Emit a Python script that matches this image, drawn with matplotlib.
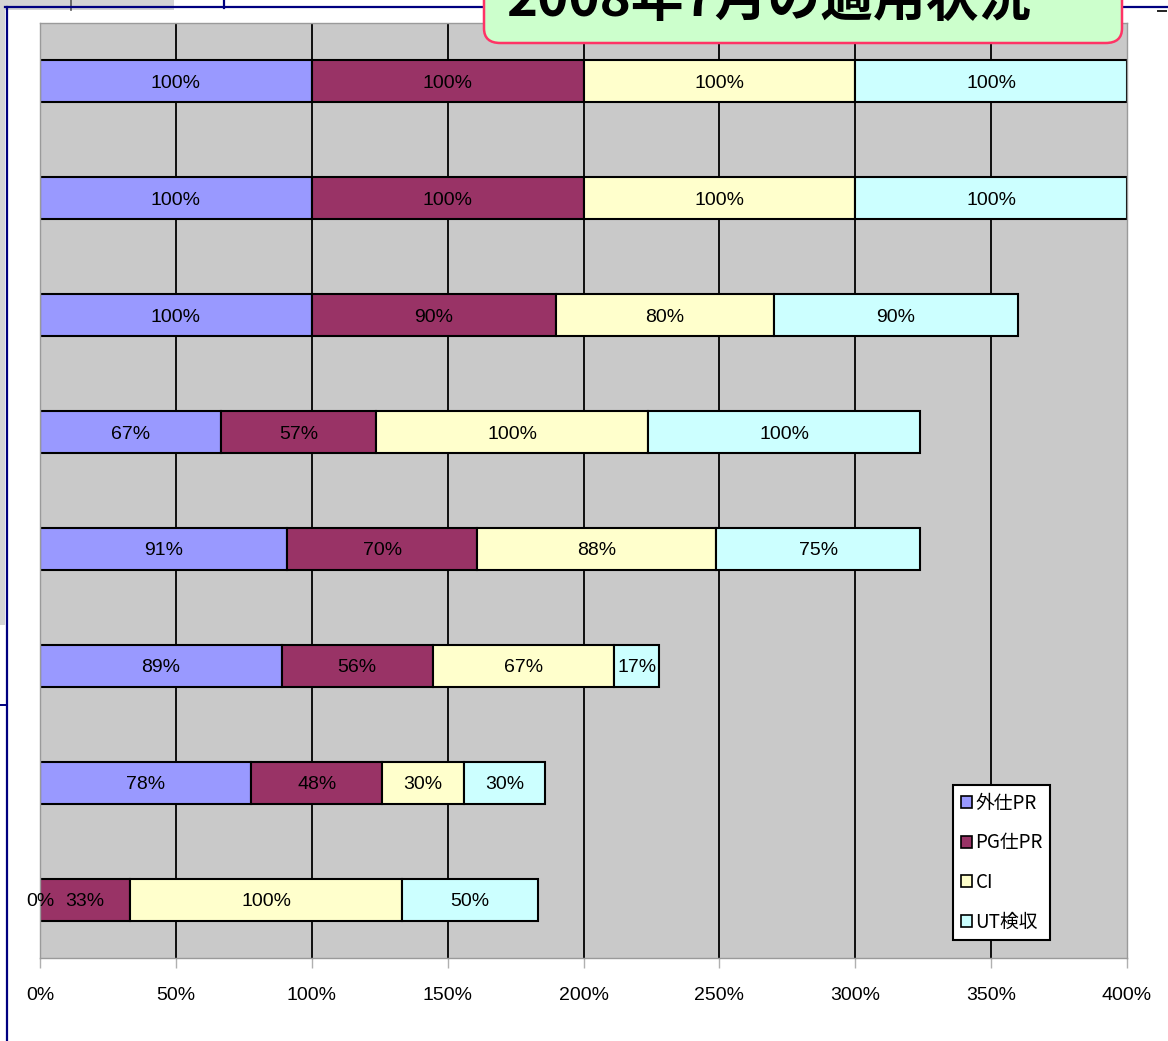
import matplotlib
matplotlib.use("Agg")
import matplotlib.pyplot as plt
from matplotlib.patches import Patch, FancyBboxPatch, Rectangle
from matplotlib.lines import Line2D
import numpy as np

# ---- data ----
series_names = ["外仕PR", "PG仕PR", "CI", "UT検収"]
gaishi_pr = [100, 100, 100, 66.7, 90.9, 88.9, 77.8, 0]
pg_pr     = [100, 100, 90, 57.1, 70, 55.6, 48.1, 33.3]
ci        = [100, 100, 80, 100, 88, 66.7, 30, 100]
ut_kenshu = [100, 100, 90, 100, 75, 16.7, 30, 50]
xtick_vals = [0, 50, 100, 150, 200, 250, 300, 350, 400]
xtick_labels = ["0%", "50%", "100%", "150%", "200%", "250%", "300%", "350%", "400%"]
title_text = "2008年7月の適用状況"

colors = ["#9999FF", "#993366", "#FFFFCC", "#CCFFFF"]

W, H = 1168, 1041
fig = plt.figure(figsize=(W / 100, H / 100), dpi=100)
fig.patch.set_facecolor("white")

def fx(px):
    return px / W

def fy(py):
    return 1 - py / H

# ---- slide decorations ----
fig.add_artist(Rectangle((0, fy(10)), fx(174), 10 / H, transform=fig.transFigure,
                         facecolor="#d4d4d4", edgecolor="none", zorder=0))
fig.add_artist(Rectangle((0, fy(625)), fx(5), 625 / H, transform=fig.transFigure,
                         facecolor="#d4d4d4", edgecolor="none", zorder=0))
fig.add_artist(Line2D([fx(71), fx(71)], [fy(0), fy(10)], color="#555555", lw=1.2,
                      transform=fig.transFigure))
fig.add_artist(Line2D([fx(5), fx(1168)], [fy(7), fy(7)], color="#000080", lw=1.6,
                      transform=fig.transFigure))
fig.add_artist(Line2D([fx(224), fx(224)], [fy(0), fy(8)], color="#000080", lw=1.6,
                      transform=fig.transFigure))
fig.add_artist(Line2D([fx(7), fx(7)], [fy(7), fy(1041)], color="#000080", lw=1.6,
                      transform=fig.transFigure))
fig.add_artist(Line2D([fx(0), fx(7)], [fy(705), fy(705)], color="#000080", lw=1.4,
                      transform=fig.transFigure))
fig.add_artist(Line2D([fx(1158), fx(1166)], [fy(11), fy(11)], color="#222222", lw=1.4,
                      transform=fig.transFigure))

# ---- axes ----
ax = fig.add_axes([fx(40), fy(958), fx(1127) - fx(40), (958 - 23) / H])
ax.set_facecolor("#c9c9c9")

n = len(gaishi_pr)
y = np.arange(n)
num_family = ["Liberation Sans", "DejaVu Sans"]
label_font = dict(family=num_family, size=14)

ax.vlines(xtick_vals[1:-1], -0.5, n - 0.5, colors="black", lw=1.3, zorder=1)

left = np.zeros(n)
for name, vals, col in zip(series_names, [gaishi_pr, pg_pr, ci, ut_kenshu], colors):
    vals = np.array(vals, dtype=float)
    bars = ax.barh(y, vals, left=left, height=0.36, color=col, edgecolor="black",
                   linewidth=1.5, label=name, zorder=2)
    for b, v in zip(bars, vals):
        cx = b.get_x() + b.get_width() / 2
        ax.text(cx, b.get_y() + b.get_height() / 2, f"{v:.0f}%", ha="center",
                va="center_baseline", color="black", zorder=3, **label_font)
    left += vals

ax.set_xlim(0, 400)
ax.set_ylim(n - 0.5, -0.5)
ax.set_xticks(xtick_vals)
ax.set_xticklabels(xtick_labels, fontfamily=num_family, fontsize=14)
ax.set_yticks([])
ax.tick_params(axis="x", direction="out", length=7, color="#b0b0b0", pad=14, width=1)
for s in ax.spines.values():
    s.set_color("#9a9a9a")
    s.set_linewidth(1.0)

leg = ax.legend(loc="upper left", bbox_to_anchor=(fx(953), fy(785)),
                bbox_transform=fig.transFigure,
                prop=dict(family=["Noto Sans CJK JP", "DejaVu Sans"], size=13.5),
                frameon=True, fancybox=False, framealpha=1, edgecolor="black",
                handlelength=0.6, handleheight=0.6, handletextpad=0.2,
                labelspacing=1.0, borderpad=0.4, borderaxespad=0)
leg.get_frame().set_linewidth(1.5)
for h in leg.legend_handles:
    h.set_linewidth(1.2)
leg.set_zorder(5)

# ---- title callout ----
callout = FancyBboxPatch((fx(484), fy(43)), fx(1122) - fx(484), 80 / H,
                         boxstyle="round,pad=0,rounding_size=0.014",
                         transform=fig.transFigure, facecolor="#CCFFCC",
                         edgecolor="#FF3366", linewidth=1.8, zorder=10)
fig.add_artist(callout)
fig.text(fx(506), fy(16), title_text, fontsize=38, fontweight="bold",
         family=["Noto Sans CJK JP", "DejaVu Sans"], ha="left", va="baseline",
         color="black", zorder=11)

fig.savefig("out.png", dpi=100)
